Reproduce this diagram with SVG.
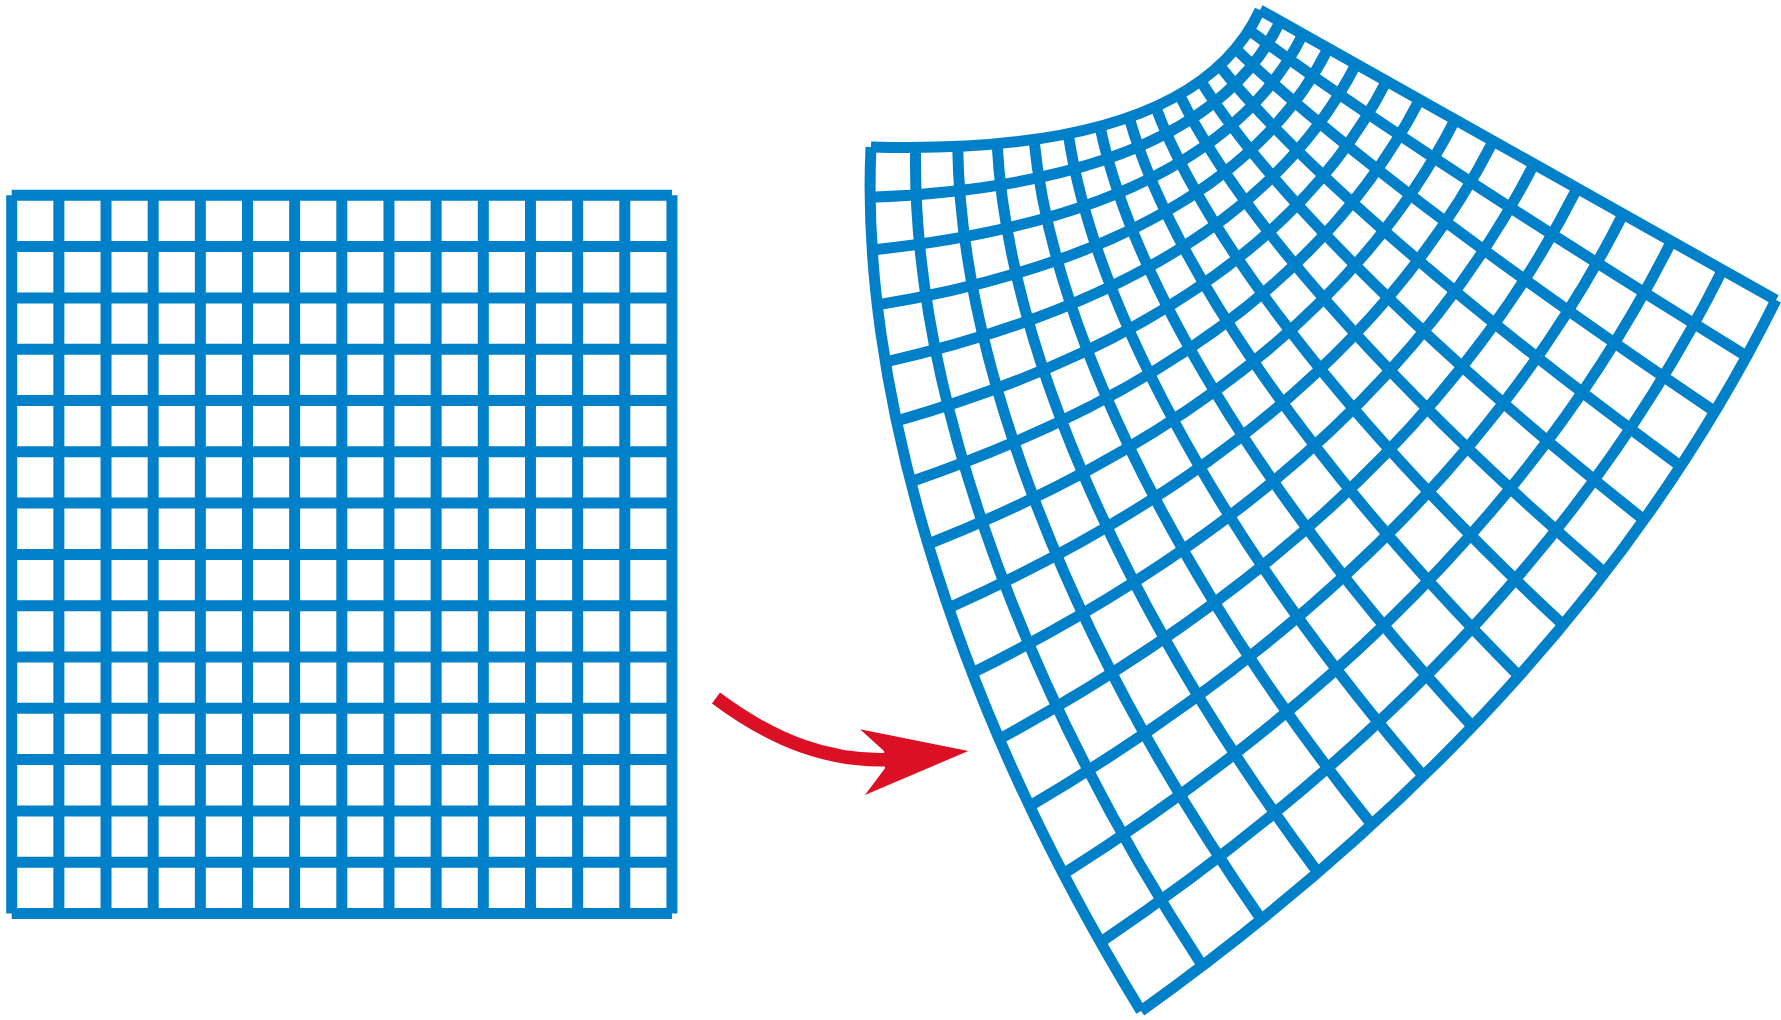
<svg xmlns="http://www.w3.org/2000/svg" width="1781" height="1020" viewBox="0 0 1781 1020">
<style>
.ln{fill:none;stroke:#0080c8;stroke-width:11;stroke-linecap:butt;stroke-linejoin:miter}
.shaft{fill:none;stroke:#dc1024;stroke-width:13.5;stroke-linecap:butt}
.head{fill:#dc1024;stroke:none}
</style>
<rect width="1781" height="1020" fill="#ffffff"/>
<g id="grid-original" class="ln">
<path d="M11.7 195.3V913.5M58.86 195.3V913.5M106.02 195.3V913.5M153.18 195.3V913.5M200.34 195.3V913.5M247.5 195.3V913.5M294.66 195.3V913.5M341.82 195.3V913.5M388.98 195.3V913.5M436.14 195.3V913.5M483.3 195.3V913.5M530.46 195.3V913.5M577.62 195.3V913.5M624.78 195.3V913.5M671.94 195.3V913.5"/>
<path d="M11.7 195.3H671.94M11.7 246.6H671.94M11.7 297.9H671.94M11.7 349.2H671.94M11.7 400.5H671.94M11.7 451.8H671.94M11.7 503.1H671.94M11.7 554.4H671.94M11.7 605.7H671.94M11.7 657H671.94M11.7 708.3H671.94M11.7 759.6H671.94M11.7 810.9H671.94M11.7 862.2H671.94M11.7 913.5H671.94"/>
</g>
<g id="grid-warped" class="ln">
<path d="M871,147 Q1192.5,156.1 1260,10"/>
<path d="M870.2,197.3 Q1201.7,184.3 1280.2,21.3"/>
<path d="M872.2,250 Q1213.7,214.4 1302.9,34.1"/>
<path d="M877.3,304.9 Q1228.5,246.4 1328.2,48.3"/>
<path d="M885.3,362 Q1246,280.1 1356.1,64"/>
<path d="M896.5,421 Q1266.4,315.6 1386.5,81.1"/>
<path d="M910.7,481.7 Q1289.5,352.6 1419.5,99.7"/>
<path d="M928,544.1 Q1315.6,391.2 1455.1,119.7"/>
<path d="M948.6,607.9 Q1344.5,431.2 1493.3,141.1"/>
<path d="M972.4,672.9 Q1376.3,472.5 1534,164"/>
<path d="M999.4,739 Q1411,515.1 1577.2,188.3"/>
<path d="M1029.7,806.1 Q1448.7,558.9 1623.1,214.1"/>
<path d="M1063.4,873.9 Q1489.3,603.8 1671.5,241.3"/>
<path d="M1100.5,942.2 Q1532.9,649.7 1722.5,269.9"/>
<path d="M1141,1011 Q1579.5,696.5 1776,300"/>
<path d="M871,147 C860.2,375.6 943.9,689.3 1141,1011"/>
<path d="M915.6,147.5 C911.6,361.7 1001.4,658.3 1202.4,965.7"/>
<path d="M957.7,146.4 C960.5,346.5 1056.3,626.2 1261.4,919.5"/>
<path d="M997.1,143.8 C1006.9,329.9 1108.8,593 1317.8,872.4"/>
<path d="M1034,139.5 C1050.6,312 1158.7,558.7 1371.8,824.6"/>
<path d="M1068.2,133.7 C1091.9,292.8 1206.2,523.3 1423.3,775.9"/>
<path d="M1099.9,126.3 C1130.5,272.2 1251.1,486.9 1472.4,726.4"/>
<path d="M1129,117.3 C1166.7,250.3 1293.5,449.4 1519,676"/>
<path d="M1155.5,106.7 C1200.2,227 1333.4,410.7 1563.1,624.8"/>
<path d="M1179.4,94.6 C1231.3,202.4 1370.8,371 1604.8,572.8"/>
<path d="M1200.7,80.8 C1259.7,176.5 1405.7,330.2 1644,519.9"/>
<path d="M1219.4,65.5 C1285.7,149.3 1438.1,288.4 1680.7,466.2"/>
<path d="M1235.5,48.6 C1309,120.7 1467.9,245.4 1714.9,411.6"/>
<path d="M1249.1,30.1 C1329.9,90.8 1495.3,201.3 1746.7,356.2"/>
<path d="M1260,10 L1776,300"/>
</g>
<g id="connectors">
<g id="arrow">
<path class="shaft" d="M716,698 C775,742 830,762 890,759.5"/>
<polygon class="head" points="968.3,751 860,729.3 884,751 885,768.3 865,795"/>
</g>
</g>
</svg>
